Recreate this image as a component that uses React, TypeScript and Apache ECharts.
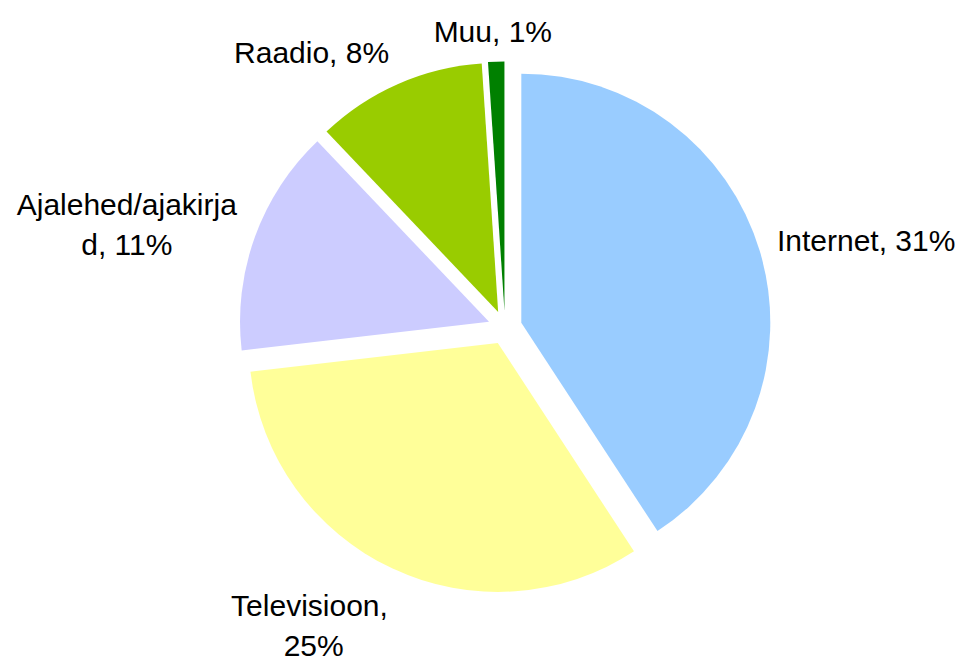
import React, { useEffect, useRef } from "react";
import * as echarts from "echarts";

const categories = ["Internet", "Televisioon", "Ajalehed/ajakirjad", "Raadio", "Muu"];
const values = [31.0, 24.6, 11.2, 8.4, 0.8];
const colors = ["#99CCFF", "#FFFF99", "#CCCCFF", "#99CC00", "#008000"];

// label placement tweaks (style only)
const labelShift: number[][] = [
  [17, -11],
  [21.5, 57.5],
  [-14.1, -12.5],
  [-9, -31],
  [55.8, -30],
];
const labelWrap: any[] = [
  {},
  { width: 200, overflow: "break" },
  { width: 228, overflow: "breakAll" },
  {},
  {},
];

export default function App() {
  const ref = useRef<HTMLDivElement>(null);
  useEffect(() => {
    document.body.style.margin = "0";
    const chart = echarts.init(ref.current!, null, { renderer: "svg" });
    chart.setOption({
      animation: false,
      backgroundColor: "#ffffff",
      series: [
        {
          type: "pie",
          center: [505, 327.5],
          radius: 249,
          startAngle: 90,
          clockwise: true,
          selectedMode: "multiple",
          selectedOffset: 17,
          avoidLabelOverlap: false,
          emphasis: { disabled: true },
          select: { itemStyle: { borderWidth: 0 } },
          itemStyle: { borderWidth: 0 },
          label: {
            show: true,
            position: "outside",
            distanceToLabelLine: 0,
            formatter: (p: any) => `{t|${p.name}, ${Math.round(p.value)}%}`,
            rich: {
              t: {
                fontFamily: "'Liberation Sans', Arial, sans-serif",
                fontSize: 30,
                lineHeight: 40,
                color: "#000000",
                align: "center",
              },
            },
          },
          labelLine: { show: false, length: 0, length2: 0 },
          labelLayout: (p: any) => ({
            dx: labelShift[p.dataIndex][0],
            dy: labelShift[p.dataIndex][1],
          }),
          data: categories.map((name, i) => ({
            name,
            value: values[i],
            selected: true,
            itemStyle: { color: colors[i] },
            label: { ...labelWrap[i] },
          })),
        },
      ],
    });
    return () => chart.dispose();
  }, []);
  return <div ref={ref} style={{ width: 960, height: 662 }} />;
}
